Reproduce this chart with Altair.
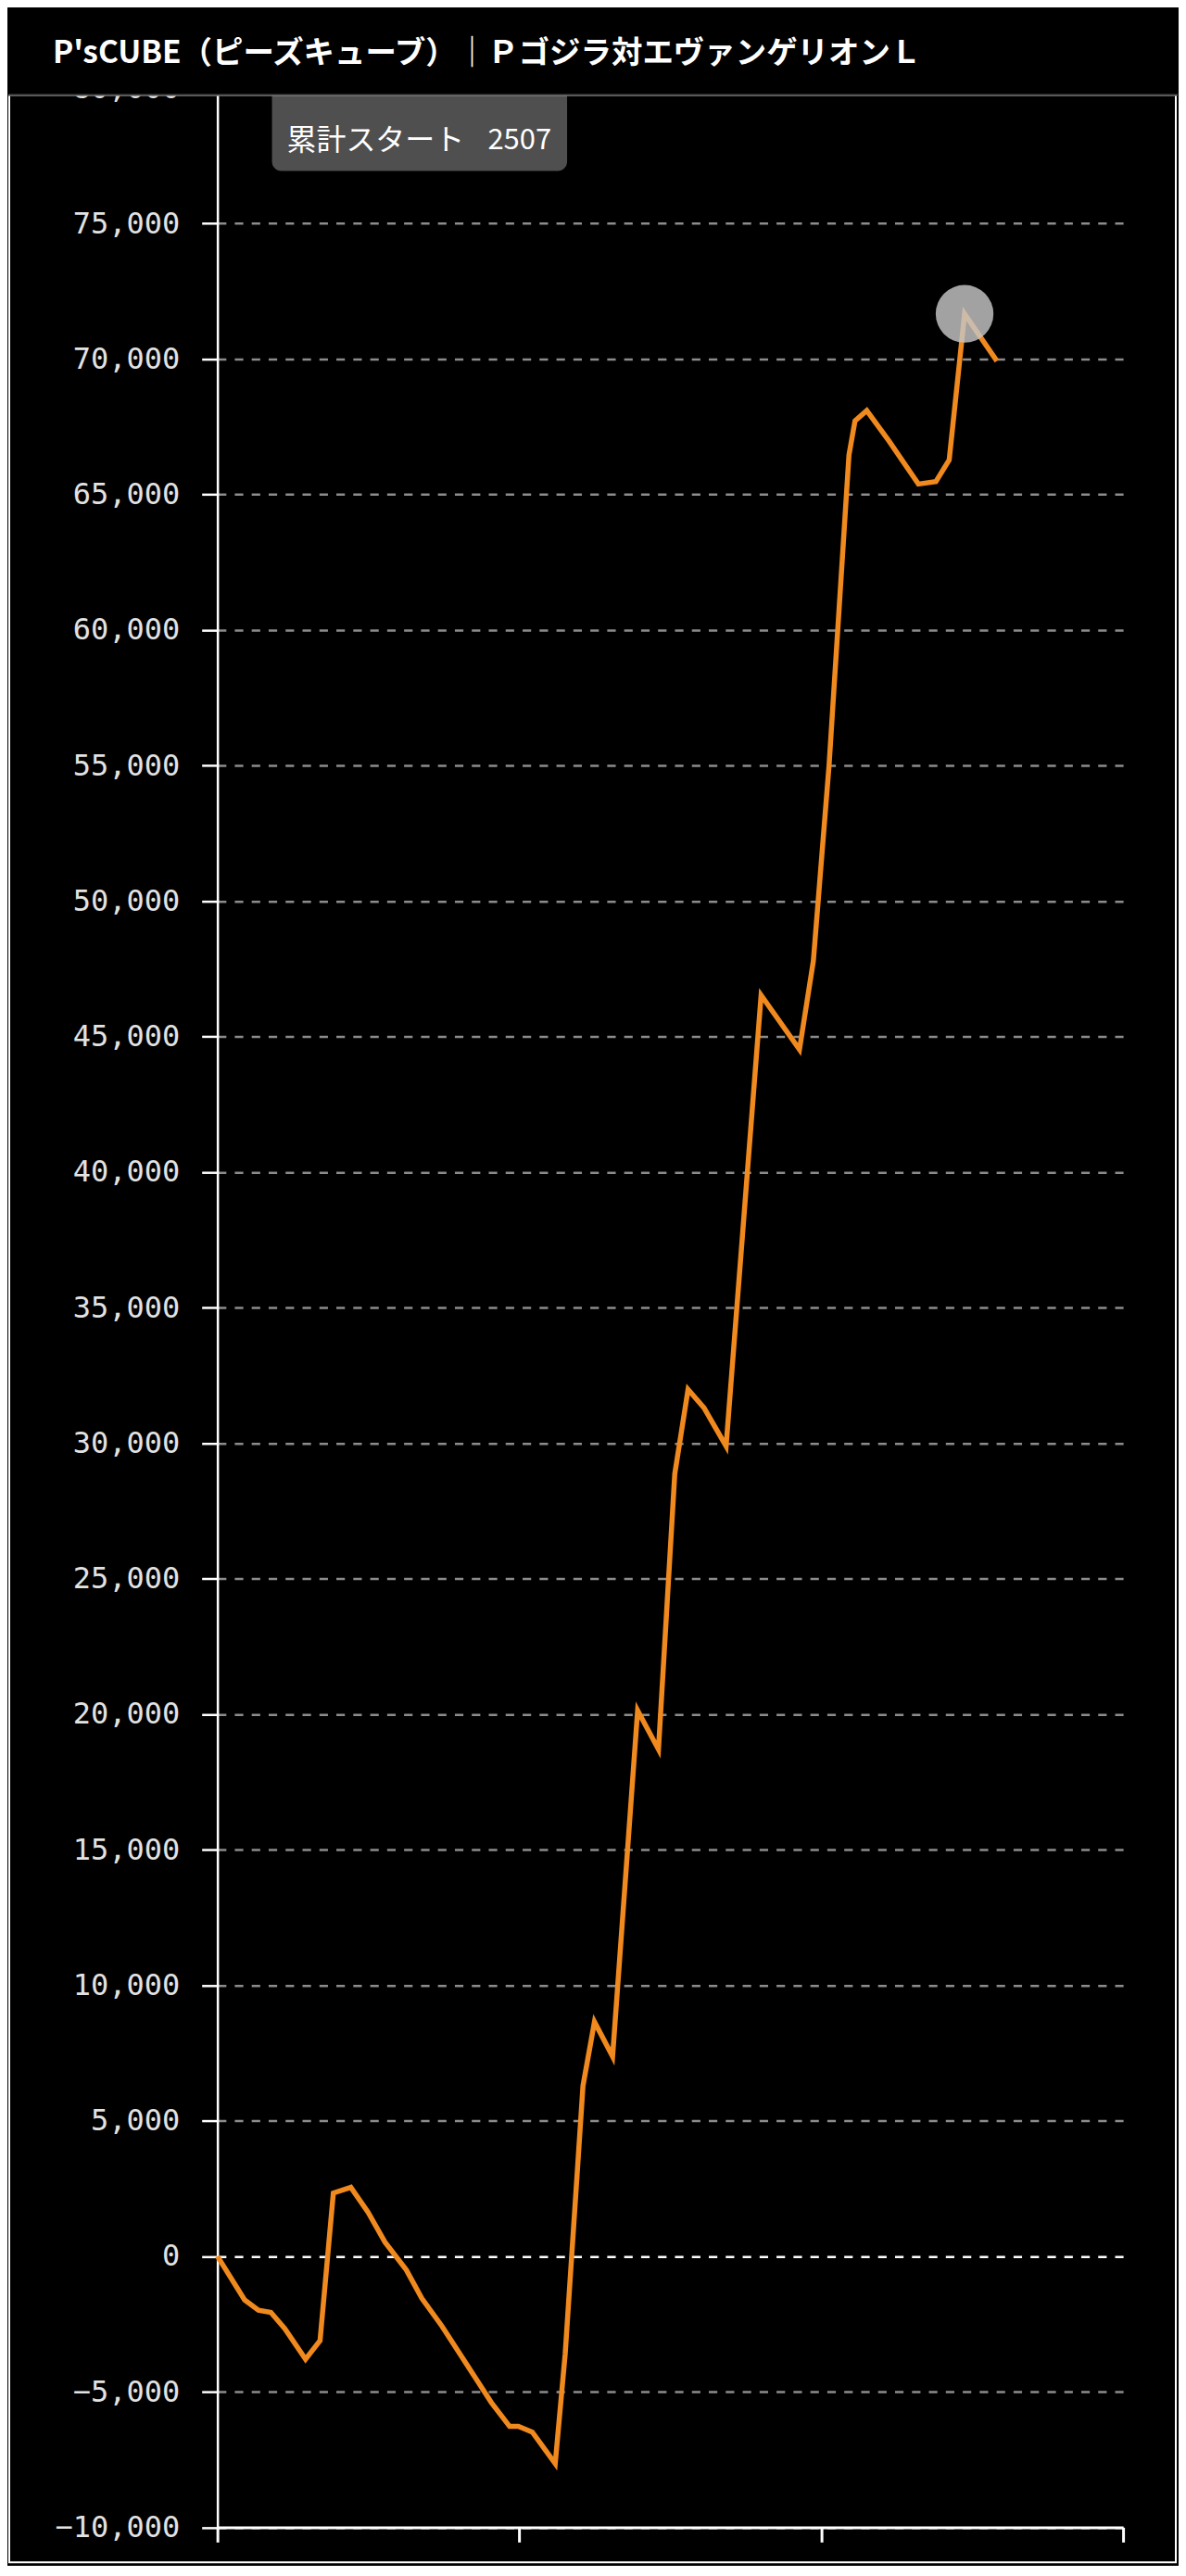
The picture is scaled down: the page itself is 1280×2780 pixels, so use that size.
import altair as alt
import pandas as pd

# ---- text ----
title_text = "P'sCUBE（ピーズキューブ）｜Ｐゴジラ対エヴァンゲリオンＬ"
tooltip_label = "累計スタート"
tooltip_value = "2507"

# ---- data (cumulative starts vs. difference in balls) ----
starts = [0, 90, 136, 177, 223, 292, 340, 384, 442, 499,
          555, 626, 677, 744, 907, 968, 997, 1043, 1119, 1152,
          1211, 1249, 1309, 1392, 1461, 1515, 1559, 1612, 1685, 1801,
          1928, 1974, 2026, 2092, 2112, 2151, 2225, 2322, 2380, 2424,
          2475, 2582]
diffs = [0, -1610, -1990, -2070, -2670, -3800, -3110, 2330, 2540, 1620,
         520, -510, -1550, -2585, -5390, -6280, -6280, -6490, -7650, -3600,
         6290, 8650, 7370, 20140, 18700, 28870, 31980, 31300, 29890, 46530,
         44525, 47790, 55000, 66460, 67720, 68100, 66970, 65390, 65480, 66280,
         71670, 69930]
highlight_index = 40

y_ticks = list(range(-10000, 80001, 5000))
x_ticks = [0, 1000, 2000, 3000]

df = pd.DataFrame({"start": starts, "diff": diffs})
hl = df.iloc[[highlight_index]]
one = pd.DataFrame({"k": [0]})

W, H = 979, 2636.5

x_enc = alt.X("start:Q",
              scale=alt.Scale(domain=[0, 3000], nice=False, zero=False),
              axis=alt.Axis(values=x_ticks, labels=False, title=None, grid=False,
                            tickSize=16, tickWidth=3, tickColor="#ffffff",
                            domainColor="#ffffff", domainWidth=3))
y_enc = alt.Y("diff:Q",
              scale=alt.Scale(domain=[-10000, 80000], nice=False, zero=False),
              axis=alt.Axis(values=y_ticks, format=",.0f", title=None,
                            labelFont="DejaVu Sans Mono", labelFontSize=32,
                            labelColor="#e2e2e2", labelPadding=24,
                            tickSize=17, tickWidth=2.5, tickColor="#ffffff",
                            domainColor="#ffffff", domainWidth=2.5,
                            grid=True, gridWidth=2.5, gridDash=[9.2, 9.1],
                            gridColor={"condition": {"test": "datum.value === 0", "value": "#ffffff"},
                                       "value": "#8c8c8c"}))

line = alt.Chart(df).mark_line(color="#F0891E", strokeWidth=5.5, strokeJoin="miter").encode(
    x=x_enc, y=y_enc)

circle = alt.Chart(hl).mark_circle(size=3900, color="#c6c6c6", opacity=0.82).encode(
    x="start:Q", y="diff:Q")

tip_box = alt.Chart(one).mark_rect(color="#4f4f4f", cornerRadius=10).encode(
    x=alt.value(59), x2=alt.value(378), y=alt.value(-10), y2=alt.value(89.5))
tip_label = alt.Chart(one).mark_text(text=tooltip_label, font="Noto Sans CJK JP", fontSize=32,
                                     color="#ffffff", align="left", baseline="middle").encode(
    x=alt.value(75), y=alt.value(57.5))
tip_value = alt.Chart(one).mark_text(text=tooltip_value, font="Noto Sans CJK JP", fontSize=31,
                                     color="#ffffff", align="right", baseline="middle").encode(
    x=alt.value(361), y=alt.value(57.5))

frame = alt.Chart(one).mark_rect(fillOpacity=0, stroke="#ffffff", strokeWidth=2).encode(
    x=alt.value(-225), x2=alt.value(1036), y=alt.value(7.5), y2=alt.value(2674.5))

title_bar = alt.Chart(one).mark_rect(color="#000000").encode(
    x=alt.value(-226), x2=alt.value(1038), y=alt.value(-84.5), y2=alt.value(7.5))
title_border = alt.Chart(one).mark_rule(color="#4a4a4a", strokeWidth=2).encode(
    x=alt.value(-226), x2=alt.value(1038), y=alt.value(7.5))
title = alt.Chart(one).mark_text(text=title_text, font="Noto Sans CJK JP", fontSize=33.5,
                                 fontWeight="bold", color="#ffffff", align="left",
                                 baseline="middle").encode(
    x=alt.value(-178), y=alt.value(-37.5))

chart = alt.layer(line, circle, tip_box, tip_label, tip_value, frame,
                  title_bar, title_border, title).properties(
    width=W, height=H, padding=0, background="#000000"
).configure_view(strokeWidth=0)

chart.save("out.html", embed_options={"renderer": "svg", "actions": False})
